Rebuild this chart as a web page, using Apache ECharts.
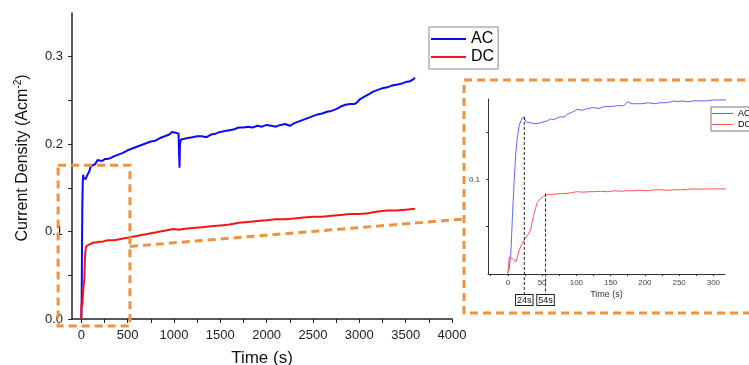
<!DOCTYPE html>
<html>
<head>
<meta charset="utf-8">
<script src="https://cdn.jsdelivr.net/npm/echarts@6/dist/echarts.min.js"></script>
<style>
  html, body { margin: 0; padding: 0; background: #fff; }
  #chart { width: 749px; height: 365px; }
</style>
</head>
<body>
<div id="chart"></div>
<script>
// AC / DC current density vs time
const acTime = [0, 2, 4.4, 6.8, 9.2, 11.6, 14, 16.5, 19, 21, 24, 26, 29, 33, 38, 43, 48, 53, 58, 62.5, 67, 72, 77, 82, 87, 94, 101, 108, 116, 125, 133, 141, 150, 160, 169, 175, 181, 185, 189, 196, 205, 214, 222, 230, 238, 243, 247, 255, 263, 271, 280, 290, 300, 307, 315,
  350, 400, 450, 500, 550, 600, 650, 700, 750, 800, 850, 900, 950, 980, 1000, 1020, 1040, 1050, 1055, 1060, 1065, 1075, 1100, 1150, 1200, 1250, 1300, 1350, 1400, 1450, 1500, 1550, 1600, 1650, 1700, 1750, 1800, 1850, 1900, 1950, 2000, 2050, 2100, 2150, 2200, 2250, 2300, 2350, 2400, 2450, 2500, 2550, 2600, 2650, 2700, 2750, 2800, 2850, 2900, 2950, 2980, 3000, 3050, 3100, 3150, 3200, 3250, 3300, 3350, 3400, 3450, 3500, 3550, 3580, 3600];
const acCurrent = [0.001, 0.006, 0.022, 0.063, 0.098, 0.128, 0.145, 0.157, 0.162, 0.165, 0.166, 0.161, 0.160, 0.160, 0.159, 0.159, 0.160, 0.161, 0.162, 0.164, 0.163, 0.165, 0.166, 0.166, 0.169, 0.171, 0.174, 0.173, 0.175, 0.176, 0.175, 0.177, 0.177, 0.178, 0.178, 0.182, 0.180, 0.180, 0.180, 0.180, 0.181, 0.180, 0.181, 0.181, 0.182, 0.183, 0.182, 0.183, 0.182, 0.183, 0.183, 0.183, 0.184, 0.184, 0.184,
  0.186, 0.188, 0.190, 0.193, 0.195, 0.197, 0.199, 0.201, 0.203, 0.204, 0.207, 0.209, 0.211, 0.214, 0.212, 0.213, 0.211, 0.212, 0.190, 0.173, 0.200, 0.205, 0.206, 0.207, 0.208, 0.209, 0.209, 0.208, 0.211, 0.212, 0.214, 0.215, 0.216, 0.217, 0.219, 0.219, 0.220, 0.219, 0.221, 0.220, 0.222, 0.221, 0.220, 0.222, 0.223, 0.221, 0.224, 0.226, 0.228, 0.230, 0.232, 0.234, 0.235, 0.237, 0.238, 0.240, 0.243, 0.245, 0.246, 0.246, 0.248, 0.251, 0.254, 0.257, 0.260, 0.262, 0.264, 0.265, 0.267, 0.268, 0.269, 0.271, 0.272, 0.274, 0.276];

const dcTime = [0, 2, 4.4, 7, 9, 11.6, 14, 16.5, 20, 24, 28.6, 33, 38, 43, 48, 52, 56.7, 62, 70, 77, 85, 93, 101, 110, 118, 125, 135, 145, 155, 165, 174, 185, 195, 205, 215, 222, 232, 242, 252, 262, 271, 280, 290, 300, 310, 317,
  350, 400, 450, 500, 550, 600, 650, 700, 750, 800, 850, 900, 950, 1000, 1050, 1100, 1200, 1300, 1400, 1500, 1600, 1700, 1800, 1900, 2000, 2100, 2200, 2300, 2400, 2500, 2600, 2700, 2800, 2900, 3000, 3100, 3150, 3200, 3300, 3400, 3500, 3600];
const dcCurrent = [0, 0.018, 0.018, 0.016, 0.015, 0.013, 0.018, 0.025, 0.031, 0.036, 0.041, 0.046, 0.0635, 0.0757, 0.080, 0.082, 0.0837, 0.084, 0.0845, 0.085, 0.085, 0.086, 0.087, 0.0865, 0.087, 0.087, 0.0875, 0.087, 0.088, 0.0875, 0.088, 0.088, 0.0885, 0.088, 0.089, 0.089, 0.0885, 0.089, 0.089, 0.0895, 0.090, 0.0895, 0.090, 0.090, 0.090, 0.090,
  0.090, 0.091, 0.092, 0.093, 0.094, 0.095, 0.096, 0.097, 0.098, 0.099, 0.100, 0.101, 0.102, 0.103, 0.102, 0.103, 0.104, 0.105, 0.106, 0.107, 0.108, 0.110, 0.111, 0.112, 0.113, 0.114, 0.114, 0.115, 0.116, 0.117, 0.117, 0.118, 0.119, 0.120, 0.120, 0.121, 0.122, 0.123, 0.124, 0.124, 0.125, 0.126];

// axis ticks / labels
const mainXLabels = [0, 500, 1000, 1500, 2000, 2500, 3000, 3500, 4000];
const mainXTicks = [0, 250, 500, 750, 1000, 1250, 1500, 1750, 2000, 2250, 2500, 2750, 3000, 3250, 3500, 3750, 4000];
const mainYLabels = [0, 0.1, 0.2, 0.3];
const mainYTicks = [0, 0.05, 0.1, 0.15, 0.2, 0.25, 0.3];
const insetXLabels = [0, 50, 100, 150, 200, 250, 300];
const insetXTicks = [-25, 0, 25, 50, 75, 100, 125, 150, 175, 200, 225, 250, 275, 300];
const insetYLabels = [0.1];
const insetYTicks = [0.05, 0.1, 0.15];

// annotations in the inset
const markerTimes = [24, 55];
const markerTops = [0.166, 0.085];
const markerNames = ['24s', '54s'];
// zoomed region shown on the main plot (data units)
const zoomBox = [[-250, 0.176], [525, -0.008]];
const connectorFrom = [525, 0.083];

const FONT = 'Liberation Sans, Arial, sans-serif';
const ORANGE = '#f0913f';

function pairs(t, v) { return t.map((x, i) => [x, v[i]]); }
const plain = v => String(v);

const chart = echarts.init(document.getElementById('chart'));

const option = {
  animation: false,
  textStyle: { fontFamily: FONT },
  grid: [
    { left: 72, top: 13, width: 380, height: 306, outerBoundsMode: 'none', containLabel: false },
    { left: 488, top: 99, width: 237, height: 175, outerBoundsMode: 'none', containLabel: false }
  ],
  legend: [
    {
      orient: 'vertical', left: 429, top: 27,
      padding: [4, 4, 4, 2], itemGap: 2, itemWidth: 35, itemHeight: 2,
      icon: 'rect', borderColor: '#888', borderWidth: 1,
      textStyle: { fontSize: 16, color: '#000', fontFamily: FONT },
      data: [
        { name: 'AC', itemStyle: { color: '#0a0af5' } },
        { name: 'DC', itemStyle: { color: '#fa1414' } }
      ]
    },
    {
      orient: 'vertical', left: 711, top: 107,
      padding: [2, 2, 2, 1], itemGap: 2, itemWidth: 21, itemHeight: 1,
      icon: 'rect', borderColor: '#777', borderWidth: 1,
      textStyle: { fontSize: 9, color: '#000', fontFamily: FONT },
      data: [
        { name: 'AC', itemStyle: { color: '#5a66ff' } },
        { name: 'DC', itemStyle: { color: '#ff5555' } }
      ]
    }
  ],
  xAxis: [
    {
      type: 'value', gridIndex: 0, min: -100, max: 4000, position: 'bottom',
      name: 'Time (s)', nameLocation: 'middle', nameGap: 31,
      nameTextStyle: { fontSize: 17, color: '#111', fontFamily: FONT },
      splitLine: { show: false },
      axisLine: { show: true, onZero: false, lineStyle: { color: '#222', width: 1.5 } },
      axisTick: { show: true, customValues: mainXTicks, length: 4, lineStyle: { color: '#222', width: 1 } },
      axisLabel: { customValues: mainXLabels, fontSize: 13, color: '#222', margin: 10, formatter: plain }
    },
    {
      type: 'value', gridIndex: 1, min: -29, max: 317, position: 'bottom',
      name: 'Time (s)', nameLocation: 'middle', nameGap: 16,
      nameTextStyle: { fontSize: 9, color: '#333', fontFamily: FONT },
      splitLine: { show: false },
      axisLine: { show: true, onZero: false, lineStyle: { color: '#333', width: 1 } },
      axisTick: { show: true, customValues: insetXTicks, length: 2, lineStyle: { color: '#333' } },
      axisLabel: { customValues: insetXLabels, fontSize: 8, color: '#444', margin: 5, formatter: plain }
    }
  ],
  yAxis: [
    {
      type: 'value', gridIndex: 0, min: 0, max: 0.35,
      name: '{a|Current Density (Acm}{s|-2}{a|)}', nameLocation: 'middle', nameGap: 40,
      nameTextStyle: {
        padding: [0, 0, 0, 16],
        rich: {
          a: { fontSize: 16, color: '#111', fontFamily: FONT },
          s: { fontSize: 10, color: '#111', fontFamily: FONT, padding: [0, 0, 9, 0] }
        }
      },
      splitLine: { show: false },
      axisLine: { show: true, onZero: false, lineStyle: { color: '#222', width: 1.5 } },
      axisTick: { show: true, customValues: mainYTicks, length: 4, lineStyle: { color: '#222' } },
      axisLabel: { customValues: mainYLabels, fontSize: 13, color: '#222', margin: 9,
        formatter: v => v.toFixed(1) }
    },
    {
      type: 'value', gridIndex: 1, min: 0, max: 0.185,
      splitLine: { show: false },
      axisLine: { show: true, onZero: false, lineStyle: { color: '#333', width: 1 } },
      axisTick: { show: true, customValues: insetYTicks, length: 2, lineStyle: { color: '#333' } },
      axisLabel: { customValues: insetYLabels, fontSize: 8, color: '#444', margin: 8,
        formatter: v => v.toFixed(1) }
    }
  ],
  series: [
    { name: 'AC', type: 'line', xAxisIndex: 0, yAxisIndex: 0, showSymbol: false,
      data: pairs(acTime, acCurrent), lineStyle: { color: '#0a0af5', width: 2 }, itemStyle: { color: '#0a0af5' } },
    { name: 'DC', type: 'line', xAxisIndex: 0, yAxisIndex: 0, showSymbol: false,
      data: pairs(dcTime, dcCurrent), lineStyle: { color: '#fa1414', width: 2 }, itemStyle: { color: '#fa1414' } },
    { name: 'AC', type: 'line', xAxisIndex: 1, yAxisIndex: 1, showSymbol: false,
      data: pairs(acTime, acCurrent), lineStyle: { color: '#5a66ff', width: 1 }, itemStyle: { color: '#5a66ff' } },
    { name: 'DC', type: 'line', xAxisIndex: 1, yAxisIndex: 1, showSymbol: false,
      data: pairs(dcTime, dcCurrent), lineStyle: { color: '#ff5555', width: 1 }, itemStyle: { color: '#ff5555' } }
  ]
};

chart.setOption(option);

// annotations placed through the axes' own scales
const toPx = (g, p) => chart.convertToPixel({ gridIndex: g }, p);
const dashOrange = { stroke: ORANGE, lineWidth: 3, lineDash: [8, 5], fill: null };
const graphics = [];

const b0 = toPx(0, zoomBox[0]);
const b1 = toPx(0, zoomBox[1]);
graphics.push({ type: 'rect', z: 100, shape: { x: b0[0], y: b0[1], width: b1[0] - b0[0], height: b1[1] - b0[1] }, style: dashOrange });

// inset frame (extends past right edge)
const frame = { x: 464, y: 80, width: 300, height: 233 };
graphics.push({ type: 'rect', z: 100, shape: frame, style: dashOrange });

const c0 = toPx(0, connectorFrom);
graphics.push({ type: 'line', z: 100, shape: { x1: c0[0], y1: c0[1], x2: frame.x, y2: 219 }, style: dashOrange });

markerTimes.forEach((t, i) => {
  const top = toPx(1, [t, markerTops[i]]);
  const base = toPx(1, [t, 0]);
  graphics.push({ type: 'line', z: 100, shape: { x1: top[0], y1: top[1], x2: base[0], y2: base[1] + 20 },
    style: { stroke: '#222', lineWidth: 1, lineDash: [3, 2] } });
  graphics.push({ type: 'text', z: 101, x: base[0], y: base[1] + 21,
    style: { text: markerNames[i], fontSize: 9, fontFamily: FONT, fill: '#111', align: 'center', verticalAlign: 'top',
      borderColor: '#222', borderWidth: 1, padding: [1, 1, 0, 1], backgroundColor: '#fff' } });
});

chart.setOption({ graphic: graphics });
</script>
</body>
</html>
